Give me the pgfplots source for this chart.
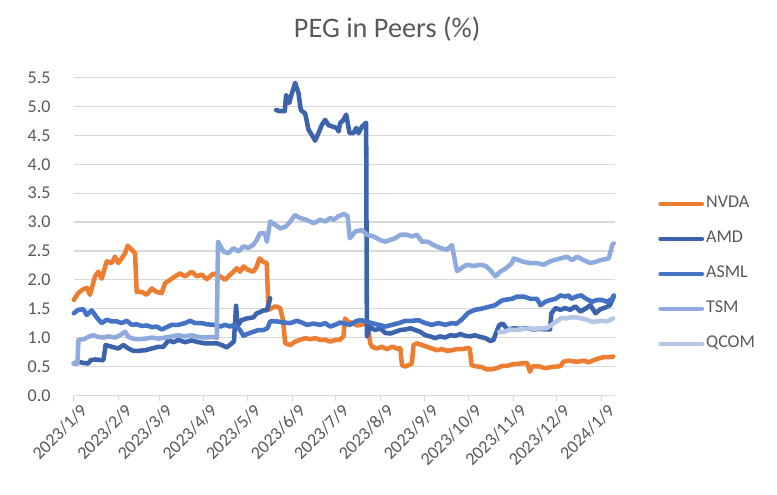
\documentclass[border=0pt]{standalone}
\usepackage{fontspec}
\setmainfont{Carlito}
\usepackage{pgfplots}
\pgfplotsset{compat=1.18}
\definecolor{cNVDA}{HTML}{ED7D31}
\definecolor{cAMD}{HTML}{3B64AD}
\definecolor{cASML}{HTML}{4472C4}
\definecolor{cTSM}{HTML}{8FAADC}
\definecolor{cQCOM}{HTML}{B4C7E7}
\definecolor{txt}{HTML}{595959}
\definecolor{gridc}{HTML}{D9D9D9}
\begin{document}
\begin{tikzpicture}
\fill[white] (0,0) rectangle (582.75pt,371.25pt);
\useasboundingbox (0,0) rectangle (582.75pt,371.25pt);
\begin{axis}[
  at={(55.35pt,74.78pt)}, anchor=south west,
  scale only axis, width=405.9pt, height=238.2pt,
  xmin=0, xmax=374.5, ymin=0, ymax=5.5,
  clip=false,
  unbounded coords=jump,
  axis lines*=left,
  x axis line style={draw=gridc, line width=0.75pt},
  y axis line style={draw=none},
  ymajorgrids, grid style={draw=gridc, line width=0.9pt},
  ytick={0,0.5,...,5.5},
  ytick style={draw=none},
  xtick={0,31,59,90,120,151,181,212,243,273,304,334,365},
  xticklabels={2023/1/9,2023/2/9,2023/3/9,2023/4/9,2023/5/9,2023/6/9,2023/7/9,2023/8/9,2023/9/9,2023/10/9,2023/11/9,2023/12/9,2024/1/9},
  xtick style={draw=gridc, line width=0.75pt},
  tick align=outside, major tick length=4.3pt,
  ticklabel style={font=\fontsize{13.5}{16}\selectfont, text=txt},
  yticklabel style={/pgf/number format/fixed, /pgf/number format/fixed zerofill, /pgf/number format/precision=1, /pgf/number format/assume math mode=true},
  yticklabel style={anchor=east, inner sep=0pt, xshift=-13pt},
  xticklabel style={rotate=45, anchor=east, inner sep=0pt, xshift=2pt, yshift=-9pt},
  title={PEG in Peers (\%)},
  title style={at={(0.579,1.0998)}, anchor=base, font=\fontsize{21.2}{25}\selectfont, text=txt},
  legend style={draw=none, fill=none, at={(1.0795,0.382)}, anchor=west,
    font=\fontsize{13.5}{16}\selectfont, text=txt, inner sep=0pt,
    row sep=14.25pt,
    nodes={text height=9pt, text depth=3pt, inner ysep=0pt, inner xsep=1.5pt}},
  legend cell align=left,
  legend image code/.code={\draw[#1, line width=3.4pt, line cap=round] (0pt,0pt) -- (31pt,0pt);},
  every axis plot/.append style={line width=3.4pt, line join=round, line cap=round},
]
% NVDA
\addplot[cNVDA] coordinates {
(0,1.65)(3,1.77)(6.6,1.84)(9,1.86)(11.2,1.74)(14.7,2.06)(17,2.14)(19.3,2.02)(22.8,2.32)(26.2,2.29)
(28.5,2.40)(30.8,2.29)(33.1,2.37)(35.5,2.46)(37.3,2.59)(40.1,2.52)(42.4,2.46)(43.5,1.79)(47,1.79)(50.5,1.74)
(53.9,1.85)(57.4,1.79)(60.8,1.77)(63.1,1.94)(66.6,2.00)(70.1,2.06)(73.5,2.11)(77,2.06)(81.6,2.14)(85.1,2.06)
(88.5,2.09)(92,2.01)(96.6,2.11)(99,2.08)(101.3,2.06)(104.7,2.00)(107,2.06)(110.5,2.14)(112.7,2.20)(115,2.14)
(117.4,2.23)(120.8,2.17)(124.3,2.14)(126.6,2.23)(128.5,2.37)(131.2,2.31)(133.5,2.29)(134.7,1.48)(137,1.51)(139.4,1.54)
(142.8,1.51)(144.7,1.31)(146.3,0.90)(149.7,0.87)(153.2,0.93)(156.6,0.96)(160.1,0.99)(163.5,0.97)(167,0.99)(170.5,0.96)
(174,0.96)(177.4,0.93)(181,0.96)(184,0.96)(186.6,1.02)(187.7,1.33)(190,1.27)(193,1.25)(196,1.21)(199,1.22)
(201.7,1.25)(203.5,1.19)(205.1,0.90)(206.3,0.84)(209.7,0.81)(213,0.84)(216.7,0.80)(220.2,0.84)(223.6,0.81)(226,0.81)
(227.1,0.52)(229.4,0.50)(231.5,0.52)(233.9,0.55)(235.1,0.87)(237.4,0.90)(241,0.87)(244.4,0.84)(248,0.81)(251.3,0.78)
(254.7,0.80)(258.2,0.77)(261.7,0.78)(265,0.80)(268.5,0.80)(273,0.82)(274,0.81)(275.3,0.52)(278.7,0.50)(282.1,0.49)
(285.6,0.45)(289,0.45)(292.9,0.47)(296.4,0.51)(299.8,0.51)(304.4,0.54)(309,0.55)(313.7,0.56)(315.6,0.41)(317.2,0.50)
(321.8,0.50)(326.3,0.47)(330.6,0.49)(335,0.50)(337,0.51)(338.7,0.58)(342.1,0.60)(348.2,0.58)(352.8,0.60)(356.3,0.57)
(359.8,0.61)(363.3,0.64)(366.7,0.66)(370.2,0.66)(373.2,0.67)
};
\addlegendentry{NVDA}
% AMD
\addplot[cAMD] coordinates {
(0,0.55)(3.1,0.58)(6.6,0.56)(10,0.55)(11.7,0.61)(15,0.62)(18.5,0.61)(20.5,0.61)(22,0.87)(26.2,0.84)
(30.8,0.81)(34.3,0.87)(37.8,0.81)(41.2,0.77)(44.7,0.77)(49.3,0.78)(53.9,0.81)(58.5,0.84)(62,0.84)(65.4,0.95)
(68.9,0.92)(72.4,0.96)(77,0.92)(81.6,0.95)(86.2,0.92)(90.8,0.90)(96.6,0.90)(99,0.90)(102.4,0.87)(105.9,0.83)
(109.3,0.90)(110.8,0.93)(112.3,1.55)(113.3,1.20)(116,1.30)(119.7,1.33)(124.3,1.35)(126.6,1.42)(128.9,1.44)(131.2,1.47)
(133.5,1.47)(134.7,1.56)(135.9,1.68)(137,nan)
(140,4.94)(142.5,4.92)(146,4.92)(146.9,5.20)(149,5.06)(150.9,5.23)(153.2,5.41)(155.5,5.23)(157.1,4.94)(160.1,4.88)
(162.4,4.60)(164.7,4.51)(167,4.41)(169.3,4.54)(171.6,4.68)(173.9,4.77)(176.2,4.68)(179.3,4.65)(182,4.63)(183.2,4.57)
(184.3,4.71)(186.6,4.77)(188.5,4.86)(190.8,4.54)(193.5,4.54)(195.4,4.63)(197,4.54)(199.3,4.65)(202.3,4.72)(202.8,1.02)
(205.1,1.18)(208.6,1.13)(212,1.16)(215.6,1.08)(219,1.07)(222.5,1.10)(226,1.13)(229.4,1.14)(232.9,1.16)(236.3,1.13)
(239.7,1.10)(243.2,1.04)(246.6,1.02)(250.1,0.99)(253.5,1.02)(257,1.00)(260.5,1.04)(264,1.03)(267.5,1.06)(271,1.03)
(274.3,1.02)(277.6,1.04)(281.3,1.01)(284.8,0.99)(288.2,0.94)(290.5,0.96)(292,1.07)(294.5,1.22)(297,1.24)(299.8,1.14)
(304.4,1.16)(309,1.15)(313.7,1.16)(318,1.14)(322.5,1.15)(327,1.14)(329.5,1.14)(330.5,1.42)(333.3,1.51)(336.7,1.48)
(340,1.51)(343.6,1.48)(347,1.54)(350.6,1.45)(354,1.50)(357.5,1.56)(361,1.42)(364.4,1.49)(367.9,1.52)(371,1.56)
(373.6,1.71)
};
\addlegendentry{AMD}
% ASML
\addplot[cASML] coordinates {
(0,1.42)(3.1,1.48)(6.6,1.49)(8.9,1.39)(12.4,1.47)(15.8,1.35)(19.3,1.25)(22.8,1.31)(26.2,1.28)(29.7,1.28)
(33.1,1.25)(36.6,1.29)(40.1,1.22)(43.5,1.23)(47,1.20)(50.5,1.21)(53.9,1.18)(57.4,1.19)(60.8,1.14)(64.3,1.18)
(67.8,1.22)(72.4,1.22)(77,1.25)(80.5,1.29)(83.9,1.25)(88.5,1.25)(92,1.23)(96.6,1.22)(98,1.22)(101.3,1.19)
(104.7,1.22)(108,1.19)(110.8,1.22)(112.7,1.19)(115,1.13)(117.4,1.03)(120.8,1.07)(124.3,1.10)(127.7,1.13)(131.2,1.13)
(134,1.16)(135.9,1.28)(140.5,1.28)(145.1,1.26)(149.7,1.25)(154.4,1.29)(157.8,1.26)(161.3,1.22)(165.9,1.24)(170.5,1.22)
(174,1.25)(177.4,1.19)(180.9,1.22)(184.3,1.26)(187.7,1.24)(191.2,1.22)(195.8,1.29)(199,1.30)(203,1.27)(206.3,1.25)
(211,1.22)(215.6,1.19)(220.2,1.22)(224.8,1.25)(229.4,1.29)(234,1.29)(238.6,1.30)(243.2,1.25)(247.8,1.22)(252.4,1.25)
(257,1.22)(261.7,1.25)(264.9,1.24)(268.4,1.31)(273,1.43)(277.6,1.48)(282.2,1.50)(286.9,1.53)(291.5,1.56)(296.1,1.64)
(299.8,1.66)(303.2,1.67)(306.7,1.71)(311.3,1.71)(316,1.67)(320.6,1.67)(322.9,1.56)(326.3,1.62)(329.8,1.65)(333.3,1.67)
(336.7,1.73)(340.2,1.71)(342.5,1.73)(344.2,1.67)(347.7,1.71)(351.1,1.73)(354.6,1.67)(358.6,1.62)(362,1.65)(365.5,1.65)
(369,1.62)(372.5,1.67)(373.6,1.73)
};
\addlegendentry{ASML}
% TSM
\addplot[cTSM] coordinates {
(0,0.55)(2.5,0.55)(3.2,0.96)(6.6,0.97)(10,1.01)(13.5,1.04)(17,1.01)(20.5,1.00)(23.9,1.02)(28.5,1.00)
(31.9,1.04)(35.5,1.10)(37.8,1.01)(41.2,0.98)(44.7,0.97)(49.3,0.98)(53.9,1.00)(58.5,0.98)(63.1,1.00)(67.8,1.02)
(72.4,1.04)(77,1.02)(81.6,1.04)(86.2,1.01)(90.8,1.00)(96.6,1.01)(98.9,0.99)(99.8,2.66)(103.6,2.49)(107,2.46)
(110.5,2.55)(113.9,2.49)(117.4,2.58)(120.8,2.55)(124.3,2.61)(126.6,2.69)(128.9,2.81)(132.4,2.80)(133.6,2.66)(135.9,3.01)
(139.4,2.95)(143,2.89)(146.5,2.92)(149.5,3.00)(153,3.12)(156.6,3.07)(161,3.04)(166,2.98)(170.5,3.04)(174,3.01)
(177.5,3.07)(180,3.04)(183,3.10)(187,3.14)(189.5,3.10)(191,2.72)(195,2.84)(199.3,2.86)(203,2.78)(207.4,2.75)
(212,2.69)(215.5,2.66)(219,2.69)(222.5,2.72)(226,2.78)(230.5,2.78)(234,2.75)(237.4,2.78)(241,2.66)(245,2.66)
(249,2.60)(253.6,2.55)(258,2.52)(261.7,2.60)(264,2.29)(265.2,2.15)(268.7,2.21)(272,2.26)(276.7,2.24)(281.3,2.26)
(285,2.24)(288.2,2.17)(291.7,2.06)(295.1,2.14)(299,2.20)(303.2,2.29)(304.4,2.37)(307.9,2.34)(311.3,2.31)(315.9,2.29)
(320.6,2.29)(325.2,2.26)(328.7,2.31)(332,2.34)(336.7,2.37)(341.3,2.40)(344.8,2.34)(348.2,2.40)(352.8,2.34)(357.5,2.29)
(361,2.31)(364.4,2.34)(370.2,2.37)(372.5,2.60)(373.6,2.63)
};
\addlegendentry{TSM}
% QCOM
\addplot[cQCOM] coordinates {
(294.5,1.10)(298,1.10)(301.8,1.14)(305,1.13)(308.7,1.14)(312,1.15)(315.6,1.16)(319,1.15)(322.5,1.16)(327.1,1.16)
(330.6,1.22)(334,1.28)(337.5,1.34)(341,1.33)(344.4,1.35)(348,1.35)(351.3,1.33)(355,1.31)(358.8,1.27)(362,1.28)
(365.6,1.29)(369,1.28)(373.2,1.33)
};
\addlegendentry{QCOM}
\end{axis}
\end{tikzpicture}
\end{document}
